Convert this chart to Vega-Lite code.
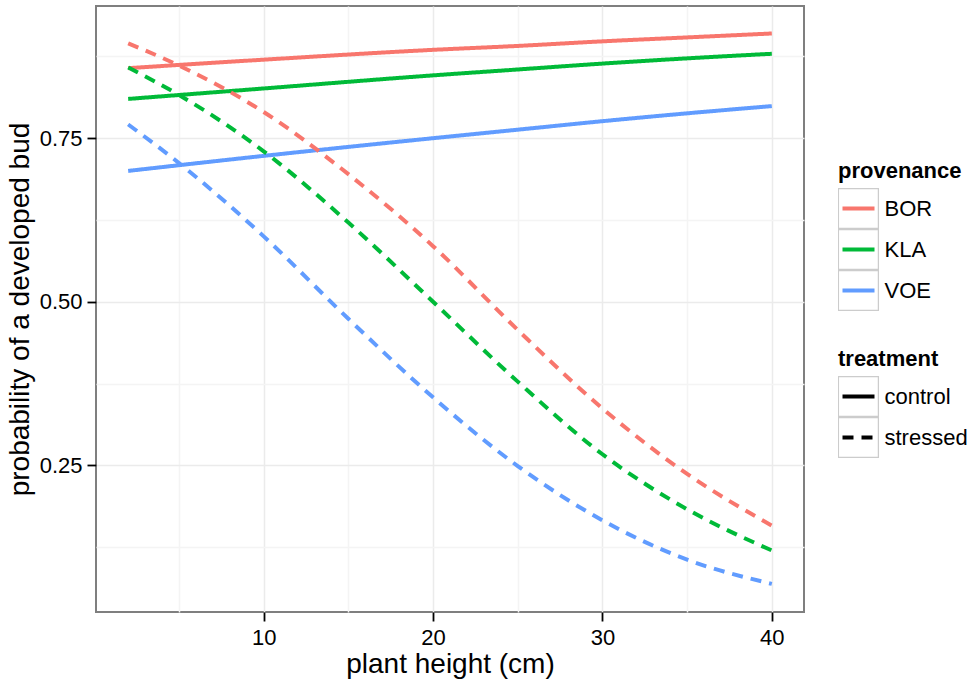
{
  "$schema": "https://vega.github.io/schema/vega-lite/v6.json",
  "autosize": {"type": "none"},
  "padding": {"left": 96, "top": 6, "right": 171, "bottom": 76},
  "width": 708,
  "height": 606,
  "background": "white",
  "config": {
    "font": "Liberation Sans",
    "view": {"stroke": "#7f7f7f", "strokeWidth": 2},
    "axis": {
      "domain": false,
      "labelFontSize": 22,
      "labelColor": "black",
      "labelFont": "Liberation Sans",
      "tickColor": "black",
      "tickWidth": 1.8,
      "tickSize": 9,
      "labelPadding": 5,
      "titleFontSize": 28,
      "titleFontWeight": "normal",
      "titleColor": "black",
      "titleFont": "Liberation Sans",
      "gridWidth": 1.5
    },
    "legend": {
      "titleFontSize": 22,
      "titleFontWeight": "bold",
      "titleColor": "black",
      "titleFont": "Liberation Sans",
      "labelFontSize": 22,
      "labelColor": "black",
      "labelFont": "Liberation Sans",
      "padding": 0
    }
  },
  "data": {
    "values": [
      {"provenance": "BOR", "treatment": "control", "height": 2, "prob": 0.857},
      {"provenance": "BOR", "treatment": "control", "height": 10, "prob": 0.870},
      {"provenance": "BOR", "treatment": "control", "height": 20, "prob": 0.885},
      {"provenance": "BOR", "treatment": "control", "height": 25, "prob": 0.891},
      {"provenance": "BOR", "treatment": "control", "height": 30, "prob": 0.898},
      {"provenance": "BOR", "treatment": "control", "height": 35, "prob": 0.904},
      {"provenance": "BOR", "treatment": "control", "height": 40, "prob": 0.910},
      {"provenance": "KLA", "treatment": "control", "height": 2, "prob": 0.810},
      {"provenance": "KLA", "treatment": "control", "height": 10, "prob": 0.826},
      {"provenance": "KLA", "treatment": "control", "height": 20, "prob": 0.846},
      {"provenance": "KLA", "treatment": "control", "height": 25, "prob": 0.855},
      {"provenance": "KLA", "treatment": "control", "height": 30, "prob": 0.864},
      {"provenance": "KLA", "treatment": "control", "height": 35, "prob": 0.872},
      {"provenance": "KLA", "treatment": "control", "height": 40, "prob": 0.879},
      {"provenance": "VOE", "treatment": "control", "height": 2, "prob": 0.700},
      {"provenance": "VOE", "treatment": "control", "height": 10, "prob": 0.723},
      {"provenance": "VOE", "treatment": "control", "height": 20, "prob": 0.750},
      {"provenance": "VOE", "treatment": "control", "height": 25, "prob": 0.763},
      {"provenance": "VOE", "treatment": "control", "height": 30, "prob": 0.776},
      {"provenance": "VOE", "treatment": "control", "height": 35, "prob": 0.788},
      {"provenance": "VOE", "treatment": "control", "height": 40, "prob": 0.799},
      {"provenance": "BOR", "treatment": "stressed", "height": 2, "prob": 0.895},
      {"provenance": "BOR", "treatment": "stressed", "height": 5, "prob": 0.861},
      {"provenance": "BOR", "treatment": "stressed", "height": 10, "prob": 0.790},
      {"provenance": "BOR", "treatment": "stressed", "height": 15, "prob": 0.695},
      {"provenance": "BOR", "treatment": "stressed", "height": 20, "prob": 0.585},
      {"provenance": "BOR", "treatment": "stressed", "height": 25, "prob": 0.457},
      {"provenance": "BOR", "treatment": "stressed", "height": 30, "prob": 0.337},
      {"provenance": "BOR", "treatment": "stressed", "height": 35, "prob": 0.237},
      {"provenance": "BOR", "treatment": "stressed", "height": 40, "prob": 0.158},
      {"provenance": "KLA", "treatment": "stressed", "height": 2, "prob": 0.858},
      {"provenance": "KLA", "treatment": "stressed", "height": 5, "prob": 0.816},
      {"provenance": "KLA", "treatment": "stressed", "height": 10, "prob": 0.730},
      {"provenance": "KLA", "treatment": "stressed", "height": 15, "prob": 0.621},
      {"provenance": "KLA", "treatment": "stressed", "height": 20, "prob": 0.500},
      {"provenance": "KLA", "treatment": "stressed", "height": 25, "prob": 0.378},
      {"provenance": "KLA", "treatment": "stressed", "height": 30, "prob": 0.267},
      {"provenance": "KLA", "treatment": "stressed", "height": 35, "prob": 0.183},
      {"provenance": "KLA", "treatment": "stressed", "height": 40, "prob": 0.120},
      {"provenance": "VOE", "treatment": "stressed", "height": 2, "prob": 0.771},
      {"provenance": "VOE", "treatment": "stressed", "height": 5, "prob": 0.712},
      {"provenance": "VOE", "treatment": "stressed", "height": 10, "prob": 0.600},
      {"provenance": "VOE", "treatment": "stressed", "height": 15, "prob": 0.474},
      {"provenance": "VOE", "treatment": "stressed", "height": 20, "prob": 0.354},
      {"provenance": "VOE", "treatment": "stressed", "height": 25, "prob": 0.249},
      {"provenance": "VOE", "treatment": "stressed", "height": 30, "prob": 0.166},
      {"provenance": "VOE", "treatment": "stressed", "height": 35, "prob": 0.106},
      {"provenance": "VOE", "treatment": "stressed", "height": 40, "prob": 0.069}
    ]
  },
  "encoding": {
    "x": {
      "field": "height",
      "type": "quantitative",
      "scale": {"domain": [0.1, 41.9], "nice": false, "zero": false},
      "axis": {
        "title": "plant height (cm)",
        "values": [5, 10, 15, 20, 25, 30, 35, 40],
        "labelExpr": "datum.value % 10 == 0 ? datum.label : ''",
        "tickOpacity": {"condition": {"test": "datum.value % 10 == 0", "value": 1}, "value": 0},
        "gridColor": {"condition": {"test": "datum.value % 10 == 0", "value": "#EBEBEB"}, "value": "#F4F4F4"},
        "titlePadding": 2,
        "labelPadding": 6
      }
    },
    "y": {
      "field": "prob",
      "type": "quantitative",
      "scale": {"domain": [0.026, 0.952], "nice": false, "zero": false},
      "axis": {
        "title": "probability of a developed bud",
        "values": [0.125, 0.25, 0.375, 0.5, 0.625, 0.75, 0.875],
        "format": ".2f",
        "labelExpr": "abs(datum.value * 4 - round(datum.value * 4)) < 0.001 ? datum.label : ''",
        "tickOpacity": {"condition": {"test": "abs(datum.value * 4 - round(datum.value * 4)) < 0.001", "value": 1}, "value": 0},
        "gridColor": {"condition": {"test": "abs(datum.value * 4 - round(datum.value * 4)) < 0.001", "value": "#EBEBEB"}, "value": "#F4F4F4"},
        "titlePadding": 5
      }
    }
  },
  "layer": [
    {
      "mark": {"type": "line", "strokeWidth": 4, "interpolate": "monotone", "clip": true},
      "encoding": {
        "color": {
          "field": "provenance",
          "type": "nominal",
          "scale": {"domain": ["BOR", "KLA", "VOE"], "range": ["#F8766D", "#00BA38", "#619CFF"]},
          "legend": {
            "title": "provenance",
            "orient": "none",
            "legendX": 742,
            "legendY": 155,
            "symbolType": "stroke",
            "symbolSize": 1024,
            "symbolStrokeWidth": 4,
            "clipHeight": 41,
            "rowPadding": 0,
            "symbolOffset": 2.5,
            "labelOffset": 8,
            "titlePadding": 5
          }
        },
        "strokeDash": {
          "field": "treatment",
          "type": "nominal",
          "scale": {"domain": ["control", "stressed"], "range": [[1, 0], [11, 8]]},
          "legend": {
            "title": "treatment",
            "orient": "none",
            "legendX": 742,
            "legendY": 343,
            "symbolType": "stroke",
            "symbolSize": 1024,
            "symbolStrokeWidth": 4,
            "symbolStrokeColor": "black",
            "clipHeight": 41,
            "rowPadding": 0,
            "symbolOffset": 2.5,
            "labelOffset": 8,
            "titlePadding": 5,
            "encoding": {
              "symbols": {"stroke": {"value": "black"}}
            }
          }
        }
      }
    },
    {
      "mark": {"type": "point", "opacity": 0},
      "encoding": {
        "shape": {
          "field": "provenance",
          "type": "nominal",
          "scale": {"range": ["square", "square", "square"]},
          "legend": {
            "title": null,
            "labelExpr": "''",
            "orient": "none",
            "legendX": 742,
            "legendY": 182,
            "symbolSize": 1600,
            "symbolStrokeWidth": 1.3,
            "clipHeight": 41,
            "rowPadding": 0,
            "symbolOffset": -0.6,
            "labelOffset": 0,
            "encoding": {
              "symbols": {"opacity": {"value": 1}, "stroke": {"value": "#cccccc"}, "fill": {"value": "transparent"}, "strokeWidth": {"value": 1.3}}
            }
          }
        }
      }
    },
    {
      "mark": {"type": "point", "opacity": 0},
      "encoding": {
        "shape": {
          "field": "treatment",
          "type": "nominal",
          "scale": {"range": ["square", "square"]},
          "legend": {
            "title": null,
            "labelExpr": "''",
            "orient": "none",
            "legendX": 742,
            "legendY": 370,
            "symbolSize": 1600,
            "symbolStrokeWidth": 1.3,
            "clipHeight": 41,
            "rowPadding": 0,
            "symbolOffset": -0.6,
            "labelOffset": 0,
            "encoding": {
              "symbols": {"opacity": {"value": 1}, "stroke": {"value": "#cccccc"}, "fill": {"value": "transparent"}, "strokeWidth": {"value": 1.3}}
            }
          }
        }
      }
    }
  ],
  "resolve": {"scale": {"shape": "independent"}, "legend": {"shape": "independent"}}
}
